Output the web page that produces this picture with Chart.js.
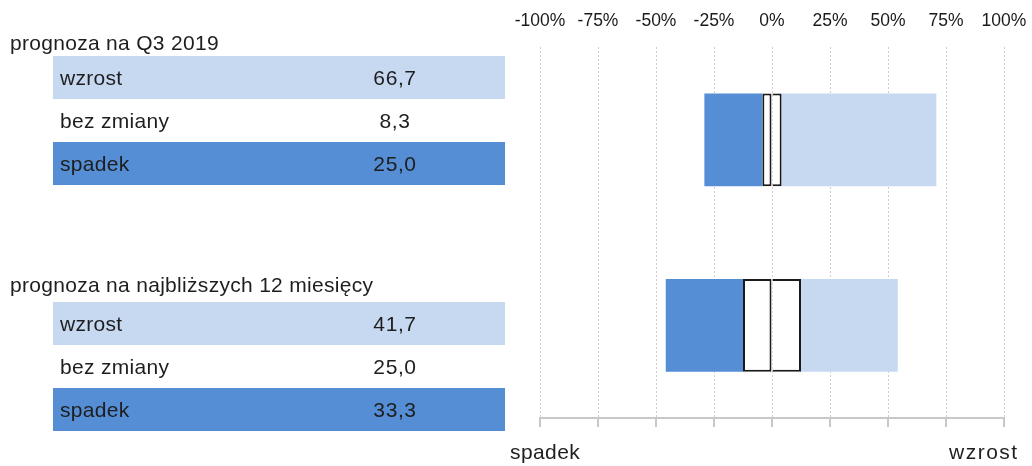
<!DOCTYPE html>
<html lang="pl">
<head>
  <meta charset="UTF-8">
  <title>prognoza</title>
  <style>
    body{margin:0;width:1032px;height:466px;position:relative;overflow:hidden;background:#fff;
      font-family:"Liberation Sans",Arial,sans-serif;color:#1e1e1e;}
    #chartBox{position:absolute;left:0;top:0;width:1032px;height:466px;}
    #tables{position:absolute;left:0;top:0;width:520px;height:466px;z-index:2;}
    .title{position:absolute;left:10px;font-size:21px;letter-spacing:0.3px;line-height:24px;white-space:nowrap;}
    .row{position:absolute;left:53px;width:452px;height:43px;line-height:43px;font-size:21px;letter-spacing:0.3px;}
    .row .lab{position:absolute;left:7px;}
    .row .val{position:absolute;left:292px;width:100px;text-align:center;letter-spacing:0.6px;}
    .axlab{position:absolute;top:440px;font-size:21px;letter-spacing:0.4px;line-height:24px;z-index:2;}
  </style>
</head>
<body>
  <div id="tables"></div>
  <div class="axlab" style="left:510px">spadek</div>
  <div class="axlab" style="left:949px;letter-spacing:1.5px">wzrost</div>
  <div id="chartBox"><canvas id="chart"></canvas></div>

  <script src="https://cdn.jsdelivr.net/npm/chart.js"></script>
  <script>
    // dane
    const categories = ['prognoza na Q3 2019', 'prognoza na najbliższych 12 miesięcy']
    const rowLabels = ['wzrost', 'bez zmiany', 'spadek']
    const wzrost = [66.7, 41.7]
    const bezZmiany = [8.3, 25.0]
    const spadek = [25.0, 33.3]
    const xTicks = [-100, -75, -50, -25, 0, 25, 50, 75, 100]

    const darkBlue = '#558ED5'
    const lightBlue = '#C6D9F1'

    // tabelki po lewej
    const tables = document.getElementById('tables')
    const titleTops = [31, 273]
    const rowTops = [56, 302]
    const rowBg = [lightBlue, '#fff', darkBlue]
    categories.forEach((c, i) => {
      const vals = [wzrost[i], bezZmiany[i], spadek[i]]
      let html = `<div class="title" style="top:${titleTops[i]}px">${c}</div>`
      rowLabels.forEach((r, j) => {
        html += `<div class="row" style="top:${rowTops[i] + j * 43}px;background:${rowBg[j]}">` +
          `<span class="lab">${r}</span><span class="val">${vals[j].toFixed(1).replace('.', ',')}</span></div>`
      })
      tables.insertAdjacentHTML('beforeend', html)
    })

    // bez zmiany dzielone po polowie wokol zera
    const halfNeg = bezZmiany.map(v => -v / 2)
    const halfPos = bezZmiany.map(v => v / 2)
    const spadekNeg = spadek.map(v => -v)

    new Chart(document.getElementById('chart'), {
      type: 'bar',
      data: {
        labels: categories,
        datasets: [
          { label: 'bez zmiany', data: halfNeg, backgroundColor: '#fff', borderColor: '#1a1a1a', borderWidth: 2, borderSkipped: false },
          { label: 'bez zmiany', data: halfPos, backgroundColor: '#fff', borderColor: '#1a1a1a', borderWidth: 2, borderSkipped: 'start' },
          { label: 'spadek', data: spadekNeg, backgroundColor: darkBlue, borderWidth: 0 },
          { label: 'wzrost', data: wzrost, backgroundColor: lightBlue, borderWidth: 0 }
        ]
      },
      options: {
        indexAxis: 'y',
        responsive: true,
        maintainAspectRatio: false,
        animation: false,
        layout: { padding: { left: 540, right: 28, top: 0, bottom: 39 } },
        plugins: { legend: { display: false }, tooltip: { enabled: false } },
        datasets: { bar: { barPercentage: 0.5, categoryPercentage: 1.0 } },
        scales: {
          y: { stacked: true, display: false },
          x: {
            stacked: true,
            position: 'top',
            min: -100, max: 100,
            afterBuildTicks: s => { s.ticks = xTicks.map(v => ({ value: v })) },
            afterFit: s => { s.height = 47; s.paddingLeft = 0; s.paddingRight = 0 },
            ticks: {
              callback: v => v + '%', color: '#1a1a1a', padding: 15,
              maxRotation: 0, minRotation: 0, autoSkip: false,
              font: { family: 'Liberation Sans', size: 17.5 }
            },
            grid: { color: '#cfcfcf', lineWidth: 1, drawTicks: false },
            border: { display: false, dash: [2, 2] }
          },
          x2: {
            type: 'linear',
            position: 'bottom',
            min: -100, max: 100,
            afterBuildTicks: s => { s.ticks = xTicks.map(v => ({ value: v })) },
            afterFit: s => { s.paddingLeft = 0; s.paddingRight = 0 },
            ticks: { display: false },
            grid: { drawOnChartArea: false, drawTicks: true, tickLength: 9, color: '#c8c8c8', lineWidth: 2 },
            border: { display: true, color: '#c8c8c8', width: 2 }
          }
        }
      }
    })
  </script>
</body>
</html>
